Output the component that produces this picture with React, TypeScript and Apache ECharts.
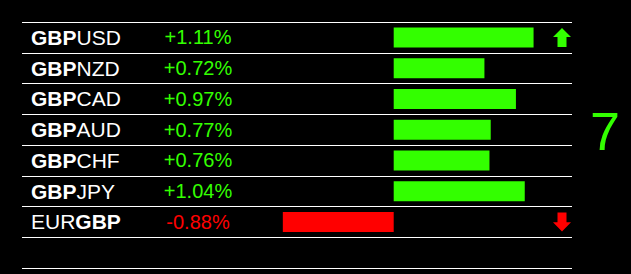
import React, { useEffect, useRef } from "react";
import * as echarts from "echarts";

const pairs = ["GBPUSD", "GBPNZD", "GBPCAD", "GBPAUD", "GBPCHF", "GBPJPY", "EURGBP", ""];
const changes: (number | null)[] = [1.11, 0.72, 0.97, 0.77, 0.76, 1.04, -0.88, null];
const arrows = ["up", "", "", "", "", "", "down", ""];
const strengthScore = "7";

const GREEN = "#33ff00";
const RED = "#ff0000";
const FONT = "'Liberation Sans', Arial, sans-serif";
const ARROW = "path://M9,0 L18,9 L13.5,9 L13.5,19 L4.5,19 L4.5,9 L0,9 Z";

export default function App() {
  const ref = useRef<HTMLDivElement>(null);

  useEffect(() => {
    document.body.style.margin = "0";
    document.body.style.background = "#000";
    const chart = echarts.init(ref.current!, null, { renderer: "svg" });

    const gridTop = 22;
    const gridBottom = 6;

    const option = {
      animation: false,
      backgroundColor: "#000",
      grid: [
        { left: 22, right: 59, top: gridTop, bottom: gridBottom },
        { left: 198, width: 1, top: gridTop, bottom: gridBottom },
        { left: 553, width: 18, top: gridTop, bottom: gridBottom },
      ],
      xAxis: [
        { gridIndex: 0, type: "value", min: -2.95, max: 1.415, show: false },
        { gridIndex: 1, type: "value", min: 0, max: 1, show: false },
        { gridIndex: 2, type: "value", min: 0, max: 1, show: false },
      ],
      yAxis: [
        {
          gridIndex: 0,
          type: "category",
          data: pairs,
          inverse: true,
          axisLine: { show: false },
          axisTick: { show: false },
          splitLine: { show: true, lineStyle: { color: "#ffffff", width: 1 } },
          axisLabel: {
            inside: true,
            margin: 9,
            interval: 0,
            formatter: (v: string) =>
              v
                .split(/(GBP)/)
                .filter(Boolean)
                .map((p) => (p === "GBP" ? `{b|${p}}` : `{n|${p}}`))
                .join(""),
            rich: {
              b: { color: "#fff", fontSize: 21, fontWeight: "bold", fontFamily: FONT },
              n: { color: "#fff", fontSize: 21, fontFamily: FONT },
            },
          },
        },
        {
          gridIndex: 1,
          type: "category",
          data: pairs,
          inverse: true,
          axisLine: { show: false },
          axisTick: { show: false },
          splitLine: { show: false },
          axisLabel: {
            inside: true,
            margin: 0,
            interval: 0,
            align: "center",
            formatter: (_v: string, i: number) => {
              const c = changes[i];
              if (c == null) return "";
              return c > 0 ? `{p|+${c.toFixed(2)}%}` : `{m|${c.toFixed(2)}%}`;
            },
            rich: {
              p: { color: GREEN, fontSize: 20, fontFamily: FONT },
              m: { color: RED, fontSize: 20, fontFamily: FONT },
            },
          },
        },
        {
          gridIndex: 2,
          type: "category",
          data: pairs,
          inverse: true,
          show: false,
        },
      ],
      series: [
        {
          type: "bar",
          xAxisIndex: 0,
          yAxisIndex: 0,
          barWidth: 20,
          data: changes.map((c) => ({
            value: c,
            itemStyle: { color: c != null && c < 0 ? RED : GREEN },
          })),
        },
        {
          type: "scatter",
          xAxisIndex: 2,
          yAxisIndex: 2,
          symbolSize: [18, 19],
          data: arrows
            .map((a, i) =>
              a
                ? {
                    value: [0.5, i],
                    symbol: ARROW,
                    symbolRotate: a === "up" ? 0 : 180,
                    itemStyle: { color: a === "up" ? GREEN : RED, opacity: 1 },
                  }
                : null
            )
            .filter(Boolean),
        },
      ],
      graphic: [
        {
          type: "text",
          x: 605,
          y: 130.5,
          style: {
            text: strengthScore,
            fill: GREEN,
            fontSize: 54,
            fontFamily: FONT,
            textAlign: "center",
            textVerticalAlign: "middle",
          },
        },
      ],
    };

    chart.setOption(option as any);
    return () => chart.dispose();
  }, []);

  return (
    <div
      ref={ref}
      style={{ position: "fixed", left: 0, top: 0, width: 631, height: 274, background: "#000" }}
    />
  );
}
